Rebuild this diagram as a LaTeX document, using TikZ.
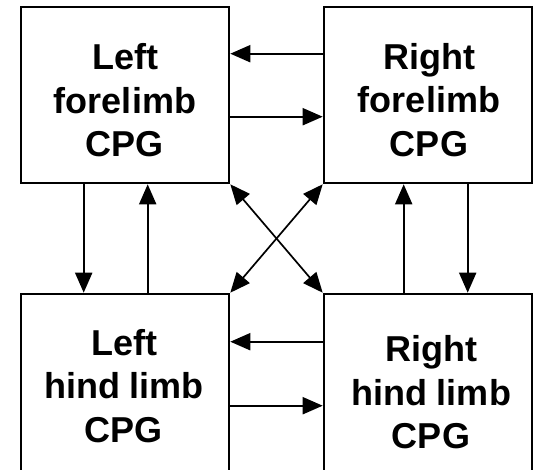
\documentclass[tikz,border=0pt]{standalone}
\usepackage{fontspec}
\setmainfont{Liberation Sans}
\usetikzlibrary{arrows.meta,calc}
\tikzset{
  cpgbox/.style={draw=black, line width=2.6pt, minimum width=208pt, minimum height=176pt, inner sep=0pt},
  hindbox/.style={cpgbox, minimum height=182pt},
  cpglabel/.style={align=center, inner sep=0pt, font=\fontsize{36}{43.5}\selectfont\bfseries},
  link/.style={line width=2pt, -{Triangle[length=20pt,width=17pt]}},
  cross/.style={line width=1.7pt, {Triangle[length=20pt,width=17pt]}-{Triangle[length=20pt,width=17pt]}}
}
\begin{document}
\begin{tikzpicture}[x=1pt,y=-1pt]
\useasboundingbox (0,0) rectangle (533,469);
% CPG boxes (the hind boxes run past the lower edge)
\node[cpgbox] (lf) at (125,95) {};
\node[cpgbox] (rf) at (428,95) {};
\node[hindbox] (lh) at (125,385) {};
\node[hindbox] (rh) at (428,385) {};
% box labels
\node[cpglabel] (lfT) at (125,100.5) {Left\\forelimb\\CPG};
\node[cpglabel] (rfT) at (429,100) {Right\\forelimb\\CPG};
\node[cpglabel] (lhT) at (124,386) {Left\\hind limb\\CPG};
\node[cpglabel] (rhT) at (431,392.5) {Right\\hind limb\\CPG};
% left-right coupling
\draw[link] ([yshift=-48pt]rf.north west) -- ([yshift=-48pt]lf.north east);
\draw[link] ([yshift=-111pt]lf.north east) -- ([yshift=-111pt]rf.north west);
\draw[link] ([yshift=-49pt]rh.north west) -- ([yshift=-49pt]lh.north east);
\draw[link] ([yshift=-113pt]lh.north east) -- ([yshift=-113pt]rh.north west);
% fore-hind coupling
\draw[link] ([xshift=64pt]lf.south west) -- ([xshift=64pt]lh.north west);
\draw[link] ([xshift=128pt]lh.north west) -- ([xshift=128pt]lf.south west);
\draw[link] ([xshift=81pt]rh.north west) -- ([xshift=81pt]rf.south west);
\draw[link] ([xshift=145pt]rf.south west) -- ([xshift=145pt]rh.north west);
% diagonal coupling
\draw[cross] (lf.south east) -- (rh.north west);
\draw[cross] (rf.south west) -- (lh.north east);
\end{tikzpicture}
\end{document}
